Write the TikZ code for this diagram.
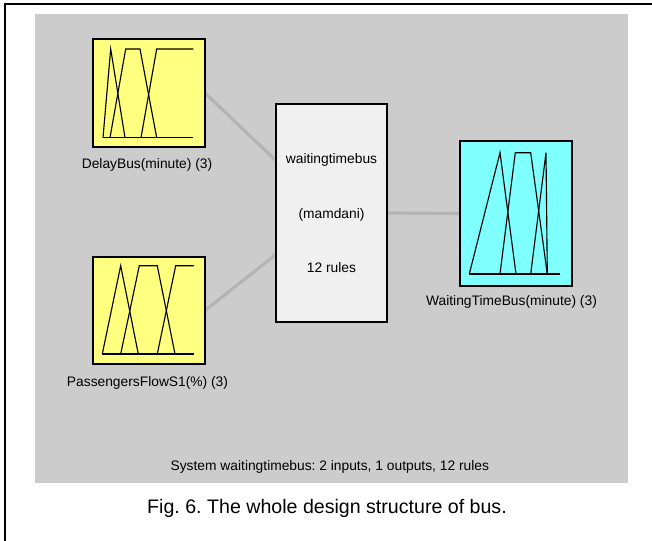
\documentclass[tikz,border=0pt]{standalone}
\usepackage{fontspec}
\setmainfont{Liberation Sans}
\usetikzlibrary{calc}
\definecolor{panel}{RGB}{204,204,204}
\definecolor{infill}{RGB}{255,255,128}
\definecolor{outfill}{RGB}{128,255,255}
\definecolor{sysfill}{RGB}{240,240,240}
\definecolor{wirecol}{RGB}{180,180,180}
\pgfdeclarelayer{bg}
\pgfsetlayers{bg,main}
\frenchspacing
\begin{document}
\begin{tikzpicture}[x=0.75pt,y=-0.75pt,
  fbox/.style={draw=black,line width=1.5pt,inner sep=0pt,outer sep=0pt,minimum width=84pt},
  lbl/.style={font=\fontsize{10.35pt}{12pt}\selectfont,anchor=base,inner sep=0pt},
  mf/.style={line width=0.85pt,line join=miter},
  wire/.style={draw=wirecol,line width=2.4pt}]
\useasboundingbox (0,0) rectangle (652,541);

% fuzzy inference system blocks
\node[fbox,fill=infill,minimum height=81pt] (in1) at (149,93) {};
\node[fbox,fill=infill,minimum height=80.25pt] (in2) at (149,310.5) {};
\node[fbox,fill=sysfill,minimum width=83.25pt,minimum height=163.5pt] (sys) at (331.5,213) {};
\node[fbox,fill=outfill,minimum height=108.75pt] (out) at (516,213.5) {};

% panel, frame and wires behind the blocks
\begin{pgfonlayer}{bg}
  \fill[white] (0,0) rectangle (652,541);
  \fill[panel] (35,14) rectangle (628,483);
  \draw[wire] (in1.east) -- ($(sys.north west)!0.26!(sys.south west)$);
  \draw[wire] (in2.east) -- ($(sys.north west)!0.69!(sys.south west)$);
  \draw[wire] (sys.east) -- (out.west);
\end{pgfonlayer}
\draw[line width=1.5pt] (5,541) -- (5,3.7) -- (652,3.7);

% membership functions: DelayBus
\draw[mf] (103,137.7) -- (193,137.7);
\draw[mf] (103,137.7) -- (110.7,49) -- (125,137.7);
\draw[mf] (110,137.7) -- (125.7,49) -- (140,49) -- (156.7,137.7);
\draw[mf] (141,137.7) -- (156.7,49) -- (193.3,49);

% membership functions: PassengersFlowS1
\draw[mf] (102.3,354) -- (194,354);
\draw[mf] (102.3,354) -- (120.7,265.7) -- (138.3,354);
\draw[mf] (120.7,354) -- (139.3,265.7) -- (157.3,265.7) -- (175,354);
\draw[mf] (157.3,354) -- (175.7,265.7) -- (194,265.7);

% membership functions: WaitingTimeBus
\draw[mf] (469.3,274) -- (560,274);
\draw[mf] (469.3,274) -- (500,152.7) -- (516,274);
\draw[mf] (500,274) -- (515.3,152.7) -- (530.7,152.7) -- (547.3,274);
\draw[mf] (530.7,274) -- (546,152.7) -- (547.3,274);

% labels
\node[lbl] (l1) at (147,169) {DelayBus(minute) (3)};
\node[lbl] (l2) at (147.5,386) {PassengersFlowS1(\%) (3)};
\node[lbl] (l3) at (511.5,305) {WaitingTimeBus(minute) (3)};
\node[lbl] (s1) at (331.5,163.3) {waitingtimebus};
\node[lbl] (s2) at (331.5,218.3) {(mamdani)};
\node[lbl] (s3) at (331.5,272.3) {12 rules};
\node[lbl] (sum) at (329.8,470.7) {System waitingtimebus: 2 inputs, 1 outputs, 12 rules};
\node[lbl,font=\fontsize{14.7pt}{17pt}\selectfont] (cap) at (327,513) {Fig. 6. The whole design structure of bus.};
\end{tikzpicture}
\end{document}
